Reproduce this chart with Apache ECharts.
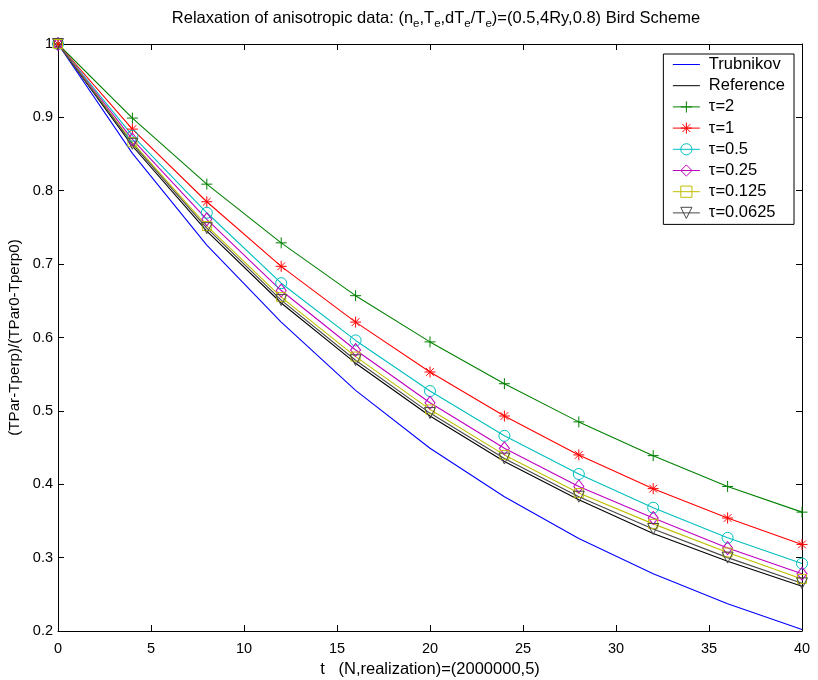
<!DOCTYPE html>
<html><head><meta charset="utf-8">
<script src="https://cdn.jsdelivr.net/npm/echarts@6/dist/echarts.min.js"></script>
<style>html,body{margin:0;padding:0;background:#fff}#c{width:818px;height:680px}</style>
</head><body><div id="c"></div>
<script>
const tValues = [0, 4, 8, 12, 16, 20, 24, 28, 32, 36, 40];
const trubnikov = [1, 0.851, 0.726, 0.621, 0.528, 0.449, 0.383, 0.326, 0.278, 0.237, 0.202];
const reference = [1, 0.861, 0.745, 0.647, 0.565, 0.493, 0.431, 0.379, 0.333, 0.295, 0.261];
const tau2 = [1, 0.899, 0.809, 0.729, 0.657, 0.594, 0.537, 0.485, 0.439, 0.397, 0.362];
const tau1 = [1, 0.884, 0.785, 0.697, 0.621, 0.553, 0.493, 0.440, 0.394, 0.354, 0.318];
const tau05 = [1, 0.875, 0.770, 0.674, 0.596, 0.527, 0.466, 0.414, 0.368, 0.327, 0.292];
const tau025 = [1, 0.870, 0.761, 0.664, 0.583, 0.511, 0.449, 0.397, 0.354, 0.313, 0.278];
const tau0125 = [1, 0.866, 0.752, 0.655, 0.574, 0.502, 0.440, 0.388, 0.346, 0.307, 0.271];
const tau00625 = [1, 0.864, 0.749, 0.651, 0.569, 0.497, 0.435, 0.383, 0.339, 0.300, 0.265];
const seriesNames = ['Trubnikov', 'Reference', 'τ=2', 'τ=1', 'τ=0.5', 'τ=0.25', 'τ=0.125', 'τ=0.0625'];
const xTicks = [0, 5, 10, 15, 20, 25, 30, 35, 40];
const yTicks = [0.2, 0.3, 0.4, 0.5, 0.6, 0.7, 0.8, 0.9, 1];

const FONT = 'Liberation Sans, Arial, sans-serif';
const pair = arr => tValues.map((t, i) => [t, arr[i]]);
const plusPath = 'path://M5,0 L5,10 M0,5 L10,5';
const starPath = 'path://M5,0 L5,10 M0,5 L10,5 M1.5,1.5 L8.5,8.5 M1.5,8.5 L8.5,1.5';

function mk(name, data, color, symbol, size, rotate) {
  const hasSym = !!symbol;
  return {
    name, type: 'line', data: pair(data),
    symbol: symbol || 'circle', symbolSize: size || 1, symbolRotate: rotate || 0,
    showSymbol: hasSym,
    lineStyle: { color, width: 1.1 },
    itemStyle: hasSym
      ? { color: 'transparent', borderColor: color, borderWidth: 1 }
      : { color: 'transparent', borderColor: 'transparent', borderWidth: 0 },
    emphasis: { disabled: true }, animation: false, z: 3
  };
}

const chart = echarts.init(document.getElementById('c'));
chart.setOption({
  backgroundColor: '#fff',
  animation: false,
  title: {
    text: 'Relaxation of anisotropic data: (n{s|e},T{s|e},dT{s|e}/T{s|e})=(0.5,4Ry,0.8) Bird Scheme',
    left: 431, top: 1, textAlign: 'center',
    textStyle: {
      fontFamily: FONT, fontSize: 16.5, fontWeight: 'normal', color: '#000',
      rich: { s: { fontFamily: FONT, fontSize: 11.5, padding: [12, 0, 0, 0], color: '#000' } }
    }
  },
  grid: { left: 58, right: 16, top: 44, bottom: 49, containLabel: false, outerBoundsMode: 'none' },
  legend: {
    data: seriesNames,
    orient: 'vertical', right: 24, top: 54,
    backgroundColor: '#fff', borderColor: '#000', borderWidth: 1,
    padding: [2, 9, 3, 9], itemGap: 4.2, itemWidth: 27, itemHeight: 14,
    lineStyle: { width: 1 },
    itemStyle: { borderWidth: 1 },
    textStyle: { fontFamily: FONT, fontSize: 16.5, lineHeight: 16, color: '#000', padding: [0, 0, 0, 4] }
  },
  xAxis: [{
    type: 'value', min: 0, max: 40, interval: 5,
    name: 't   (N,realization)=(2000000,5)', nameLocation: 'middle', nameGap: 26,
    nameTextStyle: { fontFamily: FONT, fontSize: 16.5, color: '#000' },
    axisLine: { lineStyle: { color: '#000', width: 1 } },
    axisTick: { inside: true, length: 6, lineStyle: { color: '#000' } },
    axisLabel: { fontFamily: FONT, fontSize: 14.5, color: '#000', margin: 10 },
    splitLine: { show: false }
  }, {
    type: 'value', min: 0, max: 40, interval: 5, position: 'top',
    axisLine: { show: true, onZero: false, lineStyle: { color: '#000', width: 1 } },
    axisTick: { inside: true, length: 6, lineStyle: { color: '#000' } },
    axisLabel: { show: false }, splitLine: { show: false }
  }],
  yAxis: [{
    type: 'value', min: 0.2, max: 1, interval: 0.1,
    name: '(TPar-Tperp)/(TPar0-Tperp0)', nameLocation: 'middle', nameGap: 33,
    nameTextStyle: { fontFamily: FONT, fontSize: 15.2, color: '#000' },
    axisLine: { show: true, onZero: false, lineStyle: { color: '#000', width: 1 } },
    axisTick: { inside: true, length: 6, lineStyle: { color: '#000' } },
    axisLabel: { fontFamily: FONT, fontSize: 14.5, color: '#000', margin: 5,
      formatter: v => { const r = Math.round(v * 10) / 10; return r === 1 ? '1' : r.toFixed(1); } },
    splitLine: { show: false }
  }, {
    type: 'value', min: 0.2, max: 1, interval: 0.1, position: 'right',
    axisLine: { show: true, onZero: false, lineStyle: { color: '#000', width: 1 } },
    axisTick: { inside: true, length: 6, lineStyle: { color: '#000' } },
    axisLabel: { show: false }, splitLine: { show: false }
  }],
  series: [
    mk('Trubnikov', trubnikov, '#0000ff'),
    mk('Reference', reference, '#000000'),
    mk('τ=2', tau2, '#008000', plusPath, 11),
    mk('τ=1', tau1, '#ff0000', starPath, 11),
    mk('τ=0.5', tau05, '#00bfbf', 'circle', 11),
    mk('τ=0.25', tau025, '#bf00bf', 'diamond', [10, 13]),
    mk('τ=0.125', tau0125, '#bfbf00', 'rect', 9),
    mk('τ=0.0625', tau00625, '#484848', 'triangle', 11, 180)
  ]
});
</script></body></html>
